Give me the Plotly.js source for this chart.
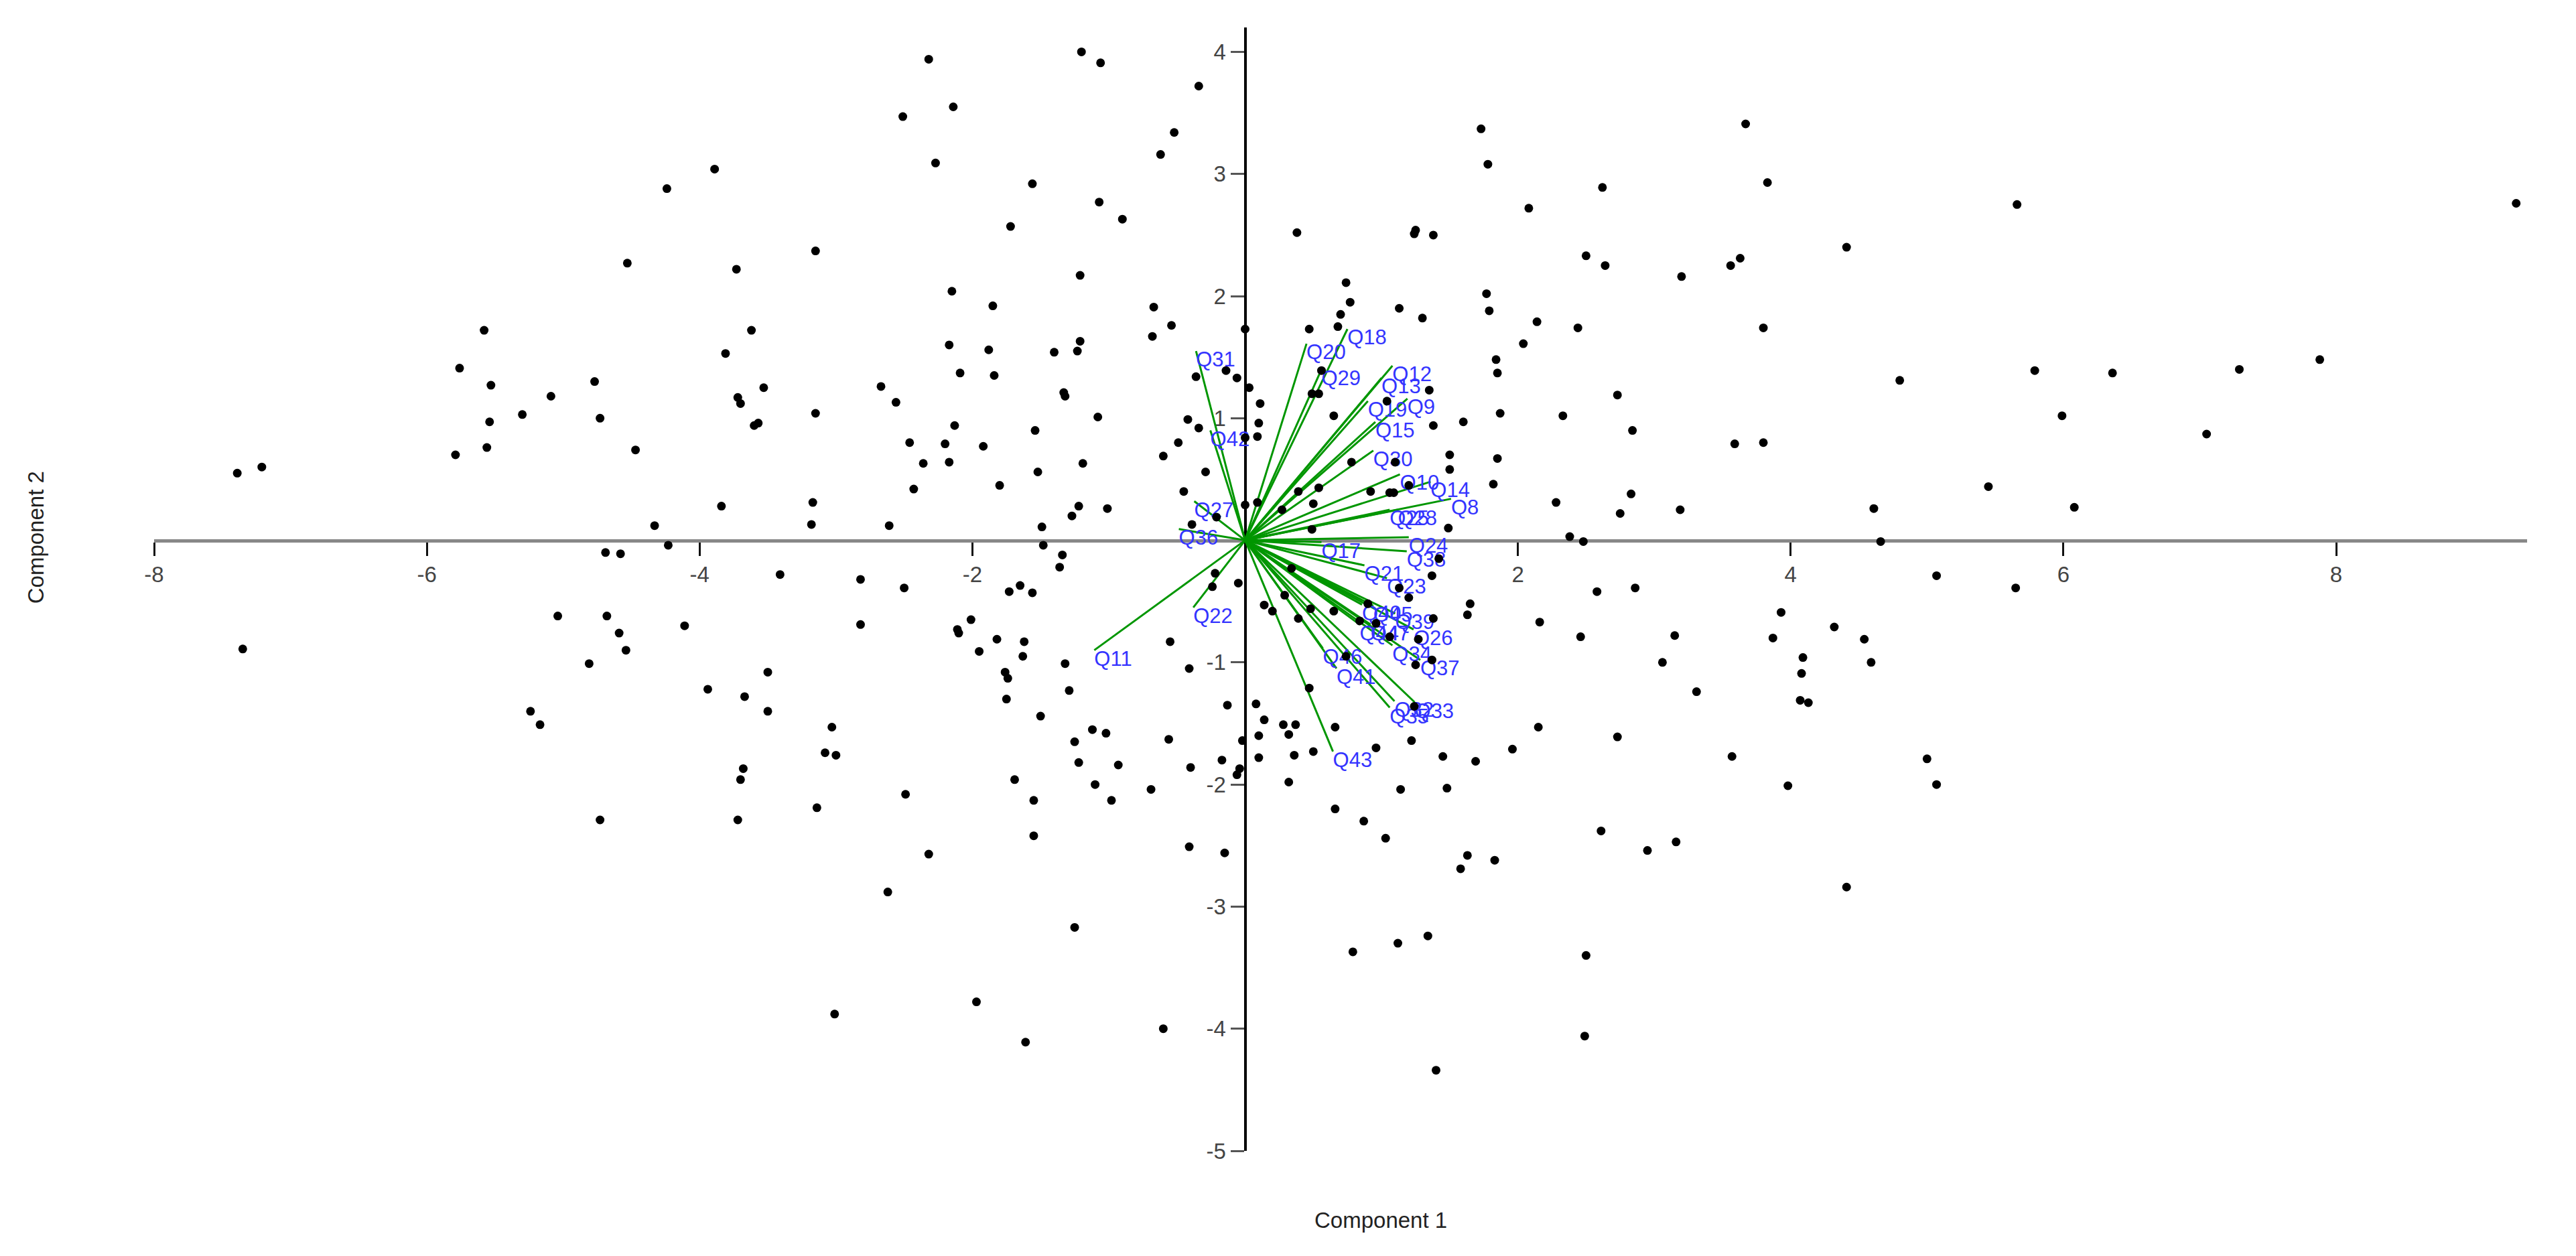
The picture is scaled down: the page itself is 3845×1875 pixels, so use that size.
<!DOCTYPE html>
<html>
<head>
<meta charset="utf-8">
<script src="https://cdn.plot.ly/plotly-3.0.1.min.js"></script>
<style>
  html, body { margin: 0; padding: 0; background: #fff; }
  #chart { width: 3845px; height: 1875px; }
</style>
</head>
<body>
<div id="chart"></div>
<script>
// PCA scores (one black dot per respondent)
const scoreX = [
  -3.89, -4.24, -4.53, -3.73, -5.58, -5.76, -5.53, -3.81, -4.77, -5.09,
  -5.30, -5.54, -4.73, -5.56, -5.79, -4.47, -7.21, -7.39, -3.84, -4.33,
  -2.32, -1.20, -1.06, -0.34, -2.14, -2.51, -0.52, -0.62, -2.27, -1.56,
  -1.07, -0.90, -1.72, -3.15, -1.21, -2.15, -1.85, -0.67, -0.54, 0.00,
  -3.62, -0.68, -2.17, -1.21, -1.88, -1.40, -1.23, -2.09, -1.84, -0.36,
  -0.14, -0.06, 0.03, 0.11, 0.10, 0.09, 0.00, -2.67, -2.56, -3.53,
  -3.72, -3.70, -1.33, -1.32, -3.15, -3.60, -3.57, -1.08, -2.13, -1.54,
  -0.42, -0.34, -2.46, -2.20, -1.92, -0.49, -0.60, -2.36, -2.17, -1.19,
  -1.52, -0.29, -2.43, -1.80, -0.45, -3.17, -3.18, -2.61, -1.22, -1.27,
  -1.01, -1.49, -0.39, -0.21, 0.00, 0.09,
  1.73, 1.78, 3.67, 3.83, 2.62, 2.08, 0.38, 1.24, 1.25, 1.38,
  4.41, 2.50, 2.64, 3.56, 3.63, 3.20, 0.74, 0.77, 0.70, 0.68,
  1.77, 1.79, 1.13, 1.30, 2.14, 2.44, 3.80, 0.47, 2.04, 1.84,
  1.85, 0.56, 0.49, 0.54, 1.35, 2.73, 1.04, 0.65, 1.87, 2.33,
  1.60, 1.38, 2.84, 3.59, 3.80, 1.50, 1.50, 1.85, 0.78, 1.10,
  1.82, 1.20, 0.92, 1.06, 1.09, 0.39, 0.54, 2.83, 2.28, 2.75,
  3.19, 4.61, 0.50, 0.27, 1.49, 0.49, 2.38, 2.48,
  5.66, 9.32, 4.80, 5.79, 6.36, 7.29, 7.88, 5.99, 7.05, 5.45, 6.08,
  -4.69, -4.58, -4.23, -5.04, -4.68, -4.11, -4.59, -7.35, -4.54, -4.81,
  -3.94, -5.24, -5.17, -4.73,
  -1.48, -1.34, -1.36, -3.41, -2.82, -2.50, -1.73, -1.65, -1.56, -0.22,
  -0.24, -0.05, -2.82, -2.01, -2.11, -2.10, -1.82, -1.95, -1.62, -1.63,
  -0.55, -3.50, -1.76, -1.74, -1.32, -0.41, -3.67, -3.50, -1.75, -1.29,
  -0.13, -3.03, -1.50, -1.12, -1.02, -3.08, -3.00, -1.25, -0.56, -0.02,
  -3.68, -3.70, -1.22, -0.93, -0.17, -0.40, -0.04, -0.06, -1.69, -1.10,
  -0.98, -0.69, -1.55, -2.49, -3.14, -3.72, -1.55, -2.32, -0.41, -0.15,
  -2.62, -1.25, -3.01, -1.97, -1.61, -0.60,
  1.42, 1.37, 1.13, 1.20, 2.58, 2.86, 1.65, 1.63, 2.16, 2.46,
  3.15, 3.06, 3.31, 3.93, 3.87, 4.09, 4.08, 4.07, 4.13, 4.32,
  4.54, 4.59, 0.14, 0.20, 0.29, 0.39, 0.48, 0.65, 0.90, 0.84,
  1.06, 1.27, 1.38, 1.37, 1.25, 0.74, 0.47, 0.08, 0.14, 0.10,
  0.10, 0.28, 0.37, 0.32, 0.66, 0.36, 0.50, 0.96, 1.22, 1.24,
  1.45, 1.69, 1.96, 2.15, 2.73, 3.57, 3.98, 0.32, 1.14, 1.48,
  0.66, 0.87, 1.03, 1.63, 1.58, 1.83, 2.61, 2.95, 3.16, 4.41,
  0.79, 1.12, 1.34, 2.50, 2.49, 1.40, 0.34, 0.96,
  4.66, 5.07, 5.65, 5.00, 5.07
];
const scoreY = [
  3.04, 2.88, 2.27, 2.22, 1.72, 1.41, 1.27, 1.53, 1.30, 1.18,
  1.03, 0.97, 1.00, 0.76, 0.70, 0.74, 0.60, 0.55, 0.28, 0.12,
  3.94, 4.00, 3.91, 3.72, 3.55, 3.47, 3.34, 3.16, 3.09, 2.92,
  2.77, 2.63, 2.57, 2.37, 2.17, 2.04, 1.92, 1.91, 1.76, 1.73,
  1.72, 1.67, 1.60, 1.63, 1.56, 1.54, 1.55, 1.37, 1.35, 1.34,
  1.39, 1.33, 1.25, 1.12, 0.96, 0.85, 0.84, 1.26, 1.13, 1.25,
  1.17, 1.12, 1.21, 1.18, 1.04, 0.94, 0.96, 1.01, 0.94, 0.90,
  0.99, 0.92, 0.80, 0.79, 0.77, 0.80, 0.69, 0.63, 0.64, 0.63,
  0.56, 0.56, 0.42, 0.45, 0.40, 0.31, 0.13, 0.12, 0.28, 0.20,
  0.26, 0.11, 0.13, 0.19, 0.29, 0.31,
  3.37, 3.08, 3.41, 2.93, 2.89, 2.72, 2.52, 2.51, 2.54, 2.50,
  2.40, 2.33, 2.25, 2.25, 2.31, 2.16, 2.11, 1.95, 1.85, 1.75,
  2.02, 1.88, 1.90, 1.82, 1.79, 1.74, 1.74, 1.73, 1.61, 1.48,
  1.37, 1.39, 1.20, 1.20, 1.23, 1.19, 1.14, 1.02, 1.04, 1.02,
  0.97, 0.94, 0.90, 0.79, 0.80, 0.70, 0.58, 0.67, 0.64, 0.64,
  0.46, 0.45, 0.40, 0.39, 0.39, 0.40, 0.43, 0.38, 0.31, 0.22,
  0.25, 0.26, 0.30, 0.25, 0.10, 0.09, 0.03, -0.01,
  2.75, 2.76, 1.31, 1.39, 1.37, 1.40, 1.48, 1.02, 0.87, 0.44, 0.27,
  -0.10, -0.11, -0.04, -0.62, -0.62, -0.70, -0.76, -0.89, -0.90, -1.01,
  -1.22, -1.40, -1.51, -2.29,
  -0.04, -0.12, -0.22, -0.28, -0.32, -0.39, -0.42, -0.37, -0.43, -0.27,
  -0.38, -0.35, -0.69, -0.65, -0.73, -0.76, -0.81, -0.91, -0.83, -0.95,
  -0.83, -1.08, -1.08, -1.13, -1.01, -1.05, -1.28, -1.40, -1.30, -1.23,
  -1.35, -1.53, -1.44, -1.55, -1.58, -1.74, -1.76, -1.65, -1.63, -1.64,
  -1.87, -1.96, -1.82, -1.84, -1.80, -1.86, -1.87, -1.92, -1.96, -2.00,
  -2.13, -2.04, -2.13, -2.08, -2.19, -2.29, -2.42, -2.57, -2.51, -2.56,
  -2.88, -3.17, -3.88, -3.78, -4.11, -4.00,
  -0.15, -0.29, -0.39, -0.47, -0.42, -0.39, -0.52, -0.61, -0.67, -0.79,
  -0.78, -1.00, -1.24, -0.59, -0.80, -0.96, -1.09, -1.31, -1.33, -0.71,
  -0.81, -1.00, -0.53, -0.58, -0.45, -0.64, -0.56, -0.58, -0.52, -0.66,
  -0.79, -0.81, -0.64, -0.98, -1.02, -0.95, -1.21, -1.34, -1.47, -1.60,
  -1.78, -1.51, -1.51, -1.59, -1.53, -1.76, -1.73, -1.70, -1.64, -1.36,
  -1.77, -1.81, -1.71, -1.53, -1.61, -1.77, -2.01, -1.98, -2.04, -2.03,
  -2.20, -2.30, -2.44, -2.58, -2.69, -2.62, -2.38, -2.54, -2.47, -2.84,
  -3.37, -3.30, -3.24, -3.40, -4.06, -4.34, -0.23, -0.68,
  -0.01, -0.29, -0.39, -1.79, -2.00
];

// Loadings (green vectors from the origin) and their labels
const loadingNames = [
  'Q8', 'Q9', 'Q10', 'Q11', 'Q12', 'Q13', 'Q14', 'Q15', 'Q17', 'Q18',
  'Q19', 'Q20', 'Q21', 'Q22', 'Q23', 'Q24', 'Q25', 'Q26', 'Q27', 'Q28',
  'Q29', 'Q30', 'Q31', 'Q32', 'Q33', 'Q34', 'Q35', 'Q36', 'Q37', 'Q38',
  'Q39', 'Q40', 'Q41', 'Q42', 'Q43', 'Q44', 'Q45', 'Q46', 'Q47'
];
const loadingX = [
  1.51, 1.19, 1.135, -1.106, 1.08, 1.00, 1.36, 0.955, 0.56, 0.75,
  0.90, 0.45, 0.875, -0.38, 1.04, 1.20, 1.06, 1.235, -0.373, 1.12,
  0.56, 0.94, -0.36, 1.095, 1.243, 1.08, 1.06, -0.486, 1.284, 1.185,
  1.10, 0.857, 0.67, -0.255, 0.644, 0.84, 0.94, 0.57, 0.92
];
const loadingY = [
  0.34, 1.16, 0.54, -0.90, 1.43, 1.33, 0.48, 0.97, -0.015, 1.73,
  1.14, 1.61, -0.205, -0.55, -0.31, 0.025, 0.25, -0.73, 0.32, 0.25,
  1.40, 0.735, 1.55, -1.317, -1.326, -0.86, -1.37, 0.092, -0.98, -0.09,
  -0.60, -0.527, -1.05, 0.90, -1.73, -0.69, -0.536, -0.885, -0.69
];

const xTickVals = [-8, -6, -4, -2, 2, 4, 6, 8];
const yTickVals = [-5, -4, -3, -2, -1, 1, 2, 3, 4];
const xRange = [-8, 9.4];
const yRange = [-5, 4.2];

const FONT = 'Arial, "Liberation Sans", sans-serif';

// one polyline with gaps: origin -> tip for every loading
const vecX = [];
const vecY = [];
loadingX.forEach((x, i) => {
  vecX.push(0, x, null);
  vecY.push(0, loadingY[i], null);
});

const vectors = {
  x: vecX, y: vecY,
  type: 'scatter', mode: 'lines',
  line: { color: '#009600', width: 3 },
  hoverinfo: 'skip', showlegend: false
};

const labels = {
  x: loadingX, y: loadingY, text: loadingNames,
  type: 'scatter', mode: 'text',
  textposition: 'bottom right',
  textfont: { family: FONT, size: 31, color: '#3434ff' },
  cliponaxis: false,
  hoverinfo: 'skip', showlegend: false
};

const scores = {
  x: scoreX, y: scoreY,
  type: 'scatter', mode: 'markers',
  marker: { color: '#000', size: 13 },
  hoverinfo: 'skip', showlegend: false
};

// axes cross at the origin, so put each axis line where the other is zero
const xAxisPos = (0 - yRange[0]) / (yRange[1] - yRange[0]);
const yAxisPos = (0 - xRange[0]) / (xRange[1] - xRange[0]);

// plain hyphen for negatives, like the original
const tickText = vals => vals.map(v => String(v));

const layout = {
  width: 3845,
  height: 1875,
  margin: { l: 230, r: 73, t: 41, b: 157 },
  paper_bgcolor: '#fff',
  plot_bgcolor: '#fff',
  showlegend: false,
  font: { family: FONT },
  xaxis: {
    range: xRange,
    anchor: 'free', position: xAxisPos,
    showline: true, linecolor: '#888', linewidth: 5,
    ticks: 'outside', ticklen: 20, tickwidth: 3, tickcolor: '#111',
    tickmode: 'array', tickvals: xTickVals, ticktext: tickText(xTickVals),
    tickfont: { family: FONT, size: 33, color: '#444' },
    showgrid: false, zeroline: false,
    layer: 'below traces', fixedrange: true
  },
  yaxis: {
    range: yRange,
    anchor: 'free', position: yAxisPos,
    showline: true, linecolor: '#000', linewidth: 4,
    ticks: 'outside', ticklen: 20, tickwidth: 3, tickcolor: '#555',
    tickmode: 'array', tickvals: yTickVals, ticktext: tickText(yTickVals),
    tickfont: { family: FONT, size: 33, color: '#444' },
    showgrid: false, zeroline: false,
    layer: 'below traces', fixedrange: true
  },
  annotations: [
    {
      xref: 'paper', yref: 'paper', x: 0.517, y: -0.062,
      text: 'Component 1', showarrow: false,
      xanchor: 'center', yanchor: 'middle',
      font: { family: FONT, size: 33, color: '#222' }
    },
    {
      xref: 'paper', yref: 'paper', x: -0.050, y: 0.546,
      text: 'Component 2', showarrow: false, textangle: -90,
      xanchor: 'center', yanchor: 'middle',
      font: { family: FONT, size: 33, color: '#222' }
    }
  ]
};

Plotly.newPlot('chart', [vectors, labels, scores], layout, { staticPlot: true });
</script>
</body>
</html>
